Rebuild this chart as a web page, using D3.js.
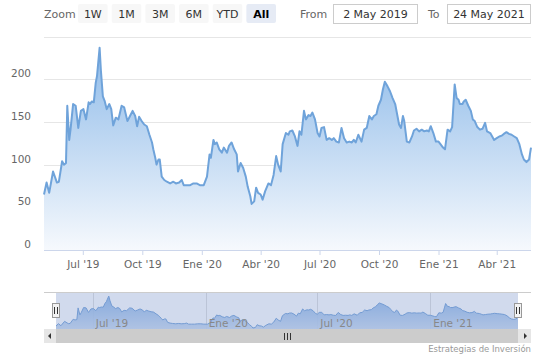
<!DOCTYPE html>
<html><head><meta charset="utf-8">
<script src="https://cdn.jsdelivr.net/npm/d3@7"></script>
<style>
body{margin:0;background:#fff}
svg{display:block;font-family:"DejaVu Sans",Verdana,sans-serif}
</style>
</head><body>
<svg id="c" width="549" height="358"></svg>
<script>
const dates = ["2019-05-02","2019-05-06","2019-05-10","2019-05-16","2019-05-22","2019-05-25","2019-05-30","2019-06-02","2019-06-05","2019-06-07","2019-06-10","2019-06-12","2019-06-16","2019-06-20","2019-06-24","2019-06-28","2019-07-02","2019-07-06","2019-07-10","2019-07-12","2019-07-15","2019-07-18","2019-07-21","2019-07-23","2019-07-27","2019-07-29","2019-08-01","2019-08-04","2019-08-07","2019-08-11","2019-08-14","2019-08-17","2019-08-21","2019-08-25","2019-08-30","2019-09-03","2019-09-08","2019-09-12","2019-09-16","2019-09-20","2019-09-23","2019-09-26","2019-09-30","2019-10-04","2019-10-08","2019-10-12","2019-10-16","2019-10-18","2019-10-21","2019-10-23","2019-10-26","2019-10-28","2019-10-31","2019-11-04","2019-11-08","2019-11-13","2019-11-18","2019-11-22","2019-11-27","2019-12-01","2019-12-04","2019-12-09","2019-12-14","2019-12-19","2019-12-24","2019-12-29","2020-01-04","2020-01-09","2020-01-13","2020-01-15","2020-01-19","2020-01-21","2020-01-24","2020-01-28","2020-02-01","2020-02-04","2020-02-09","2020-02-12","2020-02-16","2020-02-20","2020-02-24","2020-02-26","2020-03-01","2020-03-05","2020-03-09","2020-03-12","2020-03-16","2020-03-18","2020-03-22","2020-03-25","2020-03-28","2020-04-01","2020-04-04","2020-04-08","2020-04-13","2020-04-17","2020-04-21","2020-04-25","2020-04-28","2020-05-02","2020-05-05","2020-05-10","2020-05-14","2020-05-16","2020-05-20","2020-05-24","2020-05-28","2020-05-31","2020-06-03","2020-06-07","2020-06-10","2020-06-14","2020-06-17","2020-06-20","2020-06-24","2020-06-28","2020-07-01","2020-07-04","2020-07-08","2020-07-12","2020-07-16","2020-07-20","2020-07-23","2020-07-27","2020-07-31","2020-08-04","2020-08-08","2020-08-12","2020-08-16","2020-08-20","2020-08-23","2020-08-26","2020-08-30","2020-09-04","2020-09-08","2020-09-12","2020-09-16","2020-09-20","2020-09-23","2020-09-27","2020-09-30","2020-10-04","2020-10-07","2020-10-10","2020-10-14","2020-10-18","2020-10-22","2020-10-26","2020-10-29","2020-11-01","2020-11-04","2020-11-07","2020-11-09","2020-11-13","2020-11-17","2020-11-21","2020-11-24","2020-11-28","2020-12-02","2020-12-06","2020-12-10","2020-12-14","2020-12-17","2020-12-20","2020-12-24","2020-12-28","2021-01-01","2021-01-04","2021-01-08","2021-01-11","2021-01-15","2021-01-19","2021-01-22","2021-01-24","2021-01-26","2021-01-29","2021-02-01","2021-02-03","2021-02-07","2021-02-09","2021-02-12","2021-02-16","2021-02-20","2021-02-23","2021-02-26","2021-03-02","2021-03-06","2021-03-10","2021-03-14","2021-03-17","2021-03-22","2021-03-25","2021-03-28","2021-04-01","2021-04-05","2021-04-09","2021-04-12","2021-04-16","2021-04-20","2021-04-24","2021-04-28","2021-05-02","2021-05-06","2021-05-10","2021-05-13","2021-05-17","2021-05-21","2021-05-24"];
const values = [65,79,67,92,79,80,104,100,102,169,129,141,171,169,143,163,165,153,173,171,174,173,196,204,237,210,180,174,165,171,165,146,155,153,169,167,151,157,163,157,145,156,151,147,145,135,126,118,108,100,106,106,86,82,80,78,80,78,79,82,76,76,76,78,78,76,76,86,112,108,129,124,126,118,114,120,114,122,126,118,112,92,102,96,86,74,63,54,57,73,67,65,59,69,78,76,88,110,100,92,124,137,135,139,140,133,122,139,135,163,153,158,157,161,153,137,133,143,144,129,131,129,131,127,126,143,131,126,127,126,129,126,135,127,141,143,157,153,157,159,169,176,188,197,192,186,178,171,159,147,143,157,151,127,126,133,140,142,139,141,139,140,139,145,137,127,127,124,120,118,141,139,144,169,194,178,176,171,171,174,176,169,163,153,151,144,141,142,149,139,137,133,129,131,133,134,136,138,136,135,133,131,124,112,106,103,106,120];
const yTicks = [0,50,100,150,200,250];
const yLabelTicks = [0,50,100,150,200];
const xTickDates = ["2019-07-01","2019-10-01","2020-01-01","2020-04-01","2020-07-01","2020-10-01","2021-01-01","2021-04-01"];
const xTickLabels = ["Jul '19","Oct '19","Ene '20","Abr '20","Jul '20","Oct '20","Ene '21","Abr '21"];
const navTickDates = ["2019-07-01","2020-01-01","2020-07-01","2021-01-01"];
const navTickLabels = ["Jul '19","Ene '20","Jul '20","Ene '21"];
const zoomButtons = ["1W","1M","3M","6M","YTD","All"];
const selectedButton = "All";
const rangeFrom = "2 May 2019";
const rangeTo = "24 May 2021";
const credits = "Estrategias de Inversión";

const svg = d3.select("#c");
const parse = d3.utcParse("%Y-%m-%d");
const data = dates.map((d,i)=>({date:parse(d), v:values[i]}));
const start = parse("2019-05-02"), end = parse("2021-05-24");

const L=44, R=531, T=36.6, B=250;
const x = d3.scaleUtc().domain([start,end]).range([L,R]);
const y = d3.scaleLinear().domain([0,250]).range([B,T]);

// defs
const defs = svg.append("defs");
const g1 = defs.append("linearGradient").attr("id","ag").attr("x1",0).attr("x2",0).attr("y1",0).attr("y2",1);
g1.append("stop").attr("offset","0%").attr("stop-color","#8fbbe9");
g1.append("stop").attr("offset","100%").attr("stop-color","#f6f9fd");
const g2 = defs.append("linearGradient").attr("id","ng").attr("x1",0).attr("x2",0).attr("y1",0).attr("y2",1);
g2.append("stop").attr("offset","0%").attr("stop-color","#8ab4e6");
g2.append("stop").attr("offset","100%").attr("stop-color","#c9daf0");

// toolbar
const tb = svg.append("g").attr("font-size",11);
tb.append("text").attr("x",44).attr("y",18).attr("fill","#666").text("Zoom");
const bx = d3.scaleBand().domain(zoomButtons).range([78,276]).paddingInner(0.12);
zoomButtons.forEach(b=>{
  const sel = b===selectedButton;
  tb.append("rect").attr("x",bx(b)).attr("y",4).attr("width",bx.bandwidth()).attr("height",19)
    .attr("rx",2).attr("fill", sel?"#e6ebf5":"#f7f7f7");
  tb.append("text").attr("x",bx(b)+bx.bandwidth()/2).attr("y",18).attr("text-anchor","middle")
    .attr("fill", sel?"#000":"#333").attr("font-weight", sel?"bold":"normal").text(b);
});
tb.append("text").attr("x",300).attr("y",18).attr("fill","#666").text("From");
tb.append("rect").attr("x",333.5).attr("y",4.5).attr("width",84).attr("height",19).attr("fill","#fff").attr("stroke","#cccccc");
tb.append("text").attr("x",375.5).attr("y",18).attr("text-anchor","middle").attr("fill","#333").text(rangeFrom);
tb.append("text").attr("x",428).attr("y",18).attr("fill","#666").text("To");
tb.append("rect").attr("x",447.5).attr("y",4.5).attr("width",83).attr("height",19).attr("fill","#fff").attr("stroke","#cccccc");
tb.append("text").attr("x",489).attr("y",18).attr("text-anchor","middle").attr("fill","#333").text(rangeTo);

// grid
const yAxis = svg.append("g").attr("transform",`translate(${L},0)`)
  .call(d3.axisLeft(y).tickValues(yTicks).tickSize(-(R-L)).tickFormat(""));
yAxis.select(".domain").remove();
yAxis.selectAll("line").attr("stroke","#e6e6e6").attr("shape-rendering","crispEdges");
svg.append("g").selectAll("text").data(yLabelTicks).join("text")
  .attr("x",31).attr("y",d=>y(d)-2).attr("text-anchor","end").attr("font-size",10.5).attr("fill","#666").text(d=>d);

// area + line
const area = d3.area().x(d=>x(d.date)).y0(B).y1(d=>y(d.v)).curve(d3.curveLinear);
const line = d3.line().x(d=>x(d.date)).y(d=>y(d.v)).curve(d3.curveLinear);
svg.append("path").datum(data).attr("d",area).attr("fill","url(#ag)");
svg.append("path").datum(data).attr("d",line).attr("fill","none").attr("stroke","#6fa3da").attr("stroke-width",2).attr("stroke-linejoin","round");

// x axis
const xTD = xTickDates.map(parse);
const xAxis = svg.append("g").attr("transform",`translate(0,${B})`)
  .call(d3.axisBottom(x).tickValues(xTD).tickSize(5).tickPadding(6).tickFormat((d,i)=>xTickLabels[i]));
xAxis.select(".domain").attr("stroke","#ccd6eb").attr("d",`M${L},0.5H${R}`);
xAxis.selectAll("line").attr("stroke","#ccd6eb");
xAxis.selectAll("text").attr("font-size",10.5).attr("fill","#666").attr("font-family","DejaVu Sans");

// navigator
const NL=56, NR=518, NT=293, NB=329;
const nx = d3.scaleUtc().domain([start,end]).range([NL,NR]);
const ny = d3.scaleLinear().domain(d3.extent(values)).range([NB-1,NT+3]);
svg.append("line").attr("x1",L).attr("x2",R).attr("y1",NT-0.5).attr("y2",NT-0.5).attr("stroke","#cccccc");
const navG = svg.append("g");
navG.selectAll("line.ng").data(navTickDates.map(parse)).join("line")
  .attr("x1",d=>Math.round(nx(d))+0.5).attr("x2",d=>Math.round(nx(d))+0.5).attr("y1",NT).attr("y2",NB).attr("stroke","#e0e0e0");
const narea = d3.area().x(d=>nx(d.date)).y0(NB).y1(d=>ny(d.v));
const nline = d3.line().x(d=>nx(d.date)).y(d=>ny(d.v));
navG.append("path").datum(data).attr("d",narea).attr("fill","url(#ng)").attr("opacity",0.9);
navG.append("path").datum(data).attr("d",nline).attr("fill","none").attr("stroke","#7aa6da").attr("stroke-width",1);
// mask (selected range)
navG.append("rect").attr("x",nx(start)).attr("y",NT).attr("width",nx(end)-nx(start)).attr("height",NB-NT).attr("fill","rgba(102,133,194,0.3)");
navG.selectAll("text").data(navTickDates.map(parse)).join("text")
  .attr("x",d=>nx(d)+3).attr("y",NB-2).attr("font-size",10.5).attr("fill","#888").text((d,i)=>navTickLabels[i]);
// handles
[NL,NR].forEach(hx=>{
  navG.append("rect").attr("x",hx-3.5).attr("y",303.5).attr("width",7).attr("height",14).attr("fill","#f2f2f2").attr("stroke","#999");
  navG.append("line").attr("x1",hx-1.5).attr("x2",hx-1.5).attr("y1",307).attr("y2",314).attr("stroke","#333");
  navG.append("line").attr("x1",hx+1.5).attr("x2",hx+1.5).attr("y1",307).attr("y2",314).attr("stroke","#333");
});

// scrollbar
const ST=NB, SH=14;
svg.append("rect").attr("x",L).attr("y",ST).attr("width",R-L).attr("height",SH).attr("fill","#f2f2f2");
svg.append("rect").attr("x",NL).attr("y",ST).attr("width",NR-NL).attr("height",SH).attr("fill","#cccccc");
svg.append("rect").attr("x",L).attr("y",ST).attr("width",NL-L).attr("height",SH).attr("fill","#e6e6e6");
svg.append("rect").attr("x",NR).attr("y",ST).attr("width",R-NR).attr("height",SH).attr("fill","#e6e6e6");
const cy = ST+SH/2;
svg.append("path").attr("d",`M${L+4},${cy}L${L+7},${cy-3}L${L+7},${cy+3}Z`).attr("fill","#333");
svg.append("path").attr("d",`M${R-4},${cy}L${R-7},${cy-3}L${R-7},${cy+3}Z`).attr("fill","#333");
const mid = (NL+NR)/2;
[-3,0,3].forEach(o=>svg.append("line").attr("x1",mid+o+0.5).attr("x2",mid+o+0.5).attr("y1",cy-3).attr("y2",cy+4).attr("stroke","#333"));

// credits
svg.append("text").attr("x",R).attr("y",352).attr("text-anchor","end").attr("font-size",8.5).attr("fill","#999").text(credits);
</script>
</body></html>
